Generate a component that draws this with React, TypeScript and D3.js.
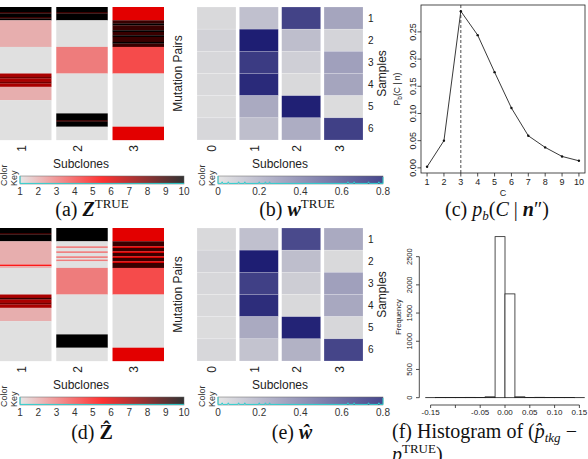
import React from "react";
import * as d3 from "d3";

// ---------- data ----------
const SUBCLONES_Z = ["1", "2", "3"];
const SUBCLONES_W = ["0", "1", "2", "3"];
const SAMPLES = ["1", "2", "3", "4", "5", "6"];

// Z matrices: run-length [value, number of mutation pairs], 80 pairs, top to bottom
const Z_TRUE_1 = [[10, 3], [9, 1], [10, 2], [9, 1], [10, 1], [2, 16], [1, 16], [7, 2], [8, 1], [7, 2], [8, 1], [7, 2], [2, 8], [1, 24]];
const Z_TRUE_2 = [[10, 3], [9, 1], [10, 4], [1, 16], [3, 16], [1, 24], [10, 4], [9, 1], [10, 3], [1, 8]];
const Z_TRUE_3 = [[6, 8], [9, 2], [10, 1], [9, 3], [10, 1], [9, 2], [10, 1], [9, 3], [10, 1], [9, 2], [4, 16], [1, 32], [6, 8]];

const Z_HAT_1 = [[10, 3], [9, 1], [10, 4], [2, 14], [5, 1], [2, 1], [1, 16], [7, 2], [9, 1], [7, 2], [8, 1], [7, 2], [2, 8], [1, 24]];
const Z_HAT_2 = [[10, 8], [1, 3], [3, 1], [1, 2], [3, 1], [1, 2], [3, 1], [1, 1], [3, 1], [1, 4], [3, 16], [1, 24], [10, 8], [1, 8]];
const Z_HAT_3 = [[6, 8], [9, 3], [6, 1], [9, 2], [6, 1], [9, 2], [6, 1], [9, 2], [6, 1], [9, 3], [4, 16], [1, 32], [6, 8]];

// w matrices: per subclone, samples 1..6
const W_TRUE_0 = [0.02, 0.05, 0.03, 0.02, 0.01, 0.03];
const W_TRUE_1 = [0.12, 0.78, 0.66, 0.73, 0.21, 0.13];
const W_TRUE_2 = [0.63, 0.13, 0.06, 0.02, 0.77, 0.2];
const W_TRUE_3 = [0.23, 0.04, 0.25, 0.23, 0.01, 0.64];

const W_HAT_0 = [0.02, 0.05, 0.03, 0.02, 0.01, 0.03];
const W_HAT_1 = [0.12, 0.78, 0.64, 0.72, 0.21, 0.11];
const W_HAT_2 = [0.6, 0.13, 0.07, 0.02, 0.76, 0.18];
const W_HAT_3 = [0.21, 0.02, 0.25, 0.22, 0.03, 0.62];

const Z_KEY_TICKS = [1, 2, 3, 4, 5, 6, 7, 8, 9, 10];
const W_KEY_TICKS = [0, 0.2, 0.4, 0.6, 0.8];
const W_KEY_LABELS = ["0", "0.2", "0.4", "0.6", "0.8"];
const W_DENSITY_BUMPS = [0.02, 0.05, 0.1, 0.13, 0.2, 0.23, 0.25, 0.63, 0.66, 0.73, 0.78];

// p_b(C | n)
const C_VALUES = [1, 2, 3, 4, 5, 6, 7, 8, 9, 10];
const PB_VALUES = [0.002, 0.05, 0.288, 0.244, 0.176, 0.11, 0.059, 0.0376, 0.021, 0.013];
const PB_Y_TICKS = [0, 0.05, 0.1, 0.15, 0.2, 0.25];
const C_SELECTED = 3;

// histogram
const HIST_BREAKS = [-0.16, -0.14, -0.12, -0.1, -0.08, -0.06, -0.04, -0.02, 0, 0.02, 0.04, 0.06, 0.08, 0.1, 0.12, 0.14, 0.16];
const HIST_COUNTS = [1, 2, 3, 4, 5, 3, 15, 2855, 1840, 15, 3, 6, 4, 3, 2, 1];
const HIST_X_TICKS = [-0.15, -0.1, -0.05, 0, 0.05, 0.1, 0.15];
const HIST_X_LABELS = ["-0.15", "", "-0.05", "0.00", "0.05", "0.10", "0.15"];
const HIST_Y_TICKS = [0, 500, 1000, 1500, 2000, 2500];

// ---------- styles ----------
const SANS = "'Liberation Sans', Arial, sans-serif";
const SERIF = "'Liberation Serif', 'Times New Roman', serif";

const zColor = d3.scaleLinear<string>().domain([1, 5.5, 10]).range(["#e0e0e0", "#ff0000", "#000000"]);
const wColor = d3.scaleLinear<string>().domain([0, 0.8]).range(["#dedede", "#191970"]).clamp(true);

function segments(runs: number[][]) {
  const out: { v: number; start: number; n: number }[] = [];
  let s = 0;
  runs.forEach(([v, n]) => {
    out.push({ v, start: s, n });
    s += n;
  });
  return out;
}

function ColorKeyTitle({ x, y }: { x: number; y: number }) {
  return (
    <g fontFamily={SANS} fontSize={9} fill="#333">
      <text transform={`translate(${x - 9.5},${y}) rotate(-90)`} textAnchor="start">Color</text>
      <text transform={`translate(${x},${y}) rotate(-90)`} textAnchor="start">Key</text>
    </g>
  );
}

function ZPanel({ cols, dy }: { cols: number[][][]; dy: number }) {
  const x = d3.scaleBand<string>().domain(SUBCLONES_Z).range([0, 164]).paddingInner(0.085);
  const nRows = d3.sum(cols[0], (r) => r[1]);
  const y = d3.scaleLinear().domain([0, nRows]).range([7 + dy, 140 + dy]);
  const kx = d3.scaleLinear().domain([1, 10]).range([20, 184]);
  const ky0 = 176 + dy;
  const ky1 = 184 + dy;
  return (
    <g>
      {cols.map((runs, ci) =>
        segments(runs).map((s, si) => (
          <rect
            key={`${ci}-${si}`}
            x={x(SUBCLONES_Z[ci])}
            y={y(s.start)}
            width={x.bandwidth()}
            height={y(s.start + s.n) - y(s.start) + 0.15}
            fill={zColor(s.v)}
          />
        ))
      )}
      {SUBCLONES_Z.map((c) => (
        <text
          key={c}
          transform={`translate(${(x(c) as number) + x.bandwidth() / 2 - 4},${145 + dy}) rotate(-90)`}
          textAnchor="end"
          dominantBaseline="central"
          fontFamily={SANS}
          fontSize={12}
          fill="#222"
        >
          {c}
        </text>
      ))}
      <text transform={`translate(182,${73.5 + dy}) rotate(-90)`} textAnchor="middle" fontFamily={SANS} fontSize={12} fill="#222">
        Mutation Pairs
      </text>
      <text x={81} y={168 + dy} textAnchor="middle" fontFamily={SANS} fontSize={12} fill="#222">
        Subclones
      </text>
      <rect x={kx(1)} y={ky0} width={kx(10) - kx(1)} height={ky1 - ky0} fill="url(#zkey)" fillOpacity={0.8} stroke="#666" strokeWidth={0.5} />
      <polyline points={`${kx(1)},${ky0} ${kx(1)},${ky1 - 0.6} ${kx(10)},${ky1 - 0.6}`} fill="none" stroke="#2fd0d0" strokeWidth={1} />
      {Z_KEY_TICKS.map((t) => (
        <text key={t} x={kx(t)} y={194.5 + dy} textAnchor="middle" fontFamily={SANS} fontSize={10} fill="#333">
          {t}
        </text>
      ))}
      <ColorKeyTitle x={16.5} y={186 + dy} />
    </g>
  );
}

function WPanel({ cols, dy }: { cols: number[][]; dy: number }) {
  const x = d3.scaleBand<string>().domain(SUBCLONES_W).range([197, 363]).paddingInner(0.08);
  const y = d3.scaleBand<string>().domain(SAMPLES).range([7 + dy, 140 + dy]);
  const kx = d3.scaleLinear().domain([0, 0.8]).range([218, 383]);
  const ky0 = 176 + dy;
  const ky1 = 184 + dy;
  const trace: string[] = [`${kx(0)},${ky0}`, `${kx(0)},${ky1 - 0.6}`];
  W_DENSITY_BUMPS.forEach((b) => {
    trace.push(`${kx(b) - 0.8},${ky1 - 0.6}`, `${kx(b)},${ky1 - 2.2}`, `${kx(b) + 0.8},${ky1 - 0.6}`);
  });
  trace.push(`${kx(0.8)},${ky1 - 0.6}`, `${kx(0.8)},${ky0 + 1}`);
  return (
    <g>
      {cols.map((vals, ci) =>
        vals.map((v, ri) => (
          <rect
            key={`${ci}-${ri}`}
            x={x(SUBCLONES_W[ci])}
            y={y(SAMPLES[ri])}
            width={x.bandwidth()}
            height={y.bandwidth()}
            fill={wColor(v)}
            stroke="#ffffff"
            strokeOpacity={0.35}
            strokeWidth={0.5}
          />
        ))
      )}
      {SAMPLES.map((s) => (
        <text
          key={s}
          x={368}
          y={(y(s) as number) + y.bandwidth() / 2}
          dominantBaseline="central"
          fontFamily={SANS}
          fontSize={10}
          fill="#222"
        >
          {s}
        </text>
      ))}
      {SUBCLONES_W.map((c) => (
        <text
          key={c}
          transform={`translate(${(x(c) as number) + x.bandwidth() / 2 - 4},${145 + dy}) rotate(-90)`}
          textAnchor="end"
          dominantBaseline="central"
          fontFamily={SANS}
          fontSize={12}
          fill="#222"
        >
          {c}
        </text>
      ))}
      <text transform={`translate(385.5,${73.5 + dy}) rotate(-90)`} textAnchor="middle" fontFamily={SANS} fontSize={12} fill="#222">
        Samples
      </text>
      <text x={280} y={168 + dy} textAnchor="middle" fontFamily={SANS} fontSize={12} fill="#222">
        Subclones
      </text>
      <rect x={kx(0)} y={ky0} width={kx(0.8) - kx(0)} height={ky1 - ky0} fill="url(#wkey)" fillOpacity={0.8} stroke="#666" strokeWidth={0.5} />
      <polyline points={trace.join(" ")} fill="none" stroke="#2fd0d0" strokeWidth={1} />
      {W_KEY_TICKS.map((t, i) => (
        <text key={t} x={kx(t)} y={194.5 + dy} textAnchor="middle" fontFamily={SANS} fontSize={10} fill="#333">
          {W_KEY_LABELS[i]}
        </text>
      ))}
      <ColorKeyTitle x={214.5} y={186 + dy} />
    </g>
  );
}

function PbPanel() {
  const lo = d3.min(PB_VALUES) as number;
  const hi = d3.max(PB_VALUES) as number;
  const ext = (hi - lo) * 0.04;
  const x = d3.scaleLinear().domain([1 - 0.36, 10 + 0.36]).range([421, 585]);
  const y = d3.scaleLinear().domain([lo - ext, hi + ext]).range([173, 5]);
  const line = d3
    .line<number>()
    .x((_, i) => x(C_VALUES[i]))
    .y((d) => y(d));
  return (
    <g fontFamily={SANS} fill="#222">
      <rect x={421} y={5} width={164} height={168} fill="none" stroke="#222" strokeWidth={0.8} />
      <line x1={x(C_SELECTED)} x2={x(C_SELECTED)} y1={5} y2={173} stroke="#222" strokeWidth={0.8} strokeDasharray="3,2" />
      <path d={line(PB_VALUES) as string} fill="none" stroke="#222" strokeWidth={0.9} />
      {PB_VALUES.map((v, i) => (
        <circle key={i} cx={x(C_VALUES[i])} cy={y(v)} r={1.2} fill="#111" />
      ))}
      {PB_Y_TICKS.map((t) => (
        <g key={t}>
          <line x1={421} x2={417.5} y1={y(t)} y2={y(t)} stroke="#222" strokeWidth={0.8} />
          <text transform={`translate(416,${y(t)}) rotate(-90)`} textAnchor="middle" fontSize={9}>
            {t.toFixed(2)}
          </text>
        </g>
      ))}
      {C_VALUES.map((c) => (
        <g key={c}>
          <line x1={x(c)} x2={x(c)} y1={173} y2={176.5} stroke="#222" strokeWidth={0.8} />
          <text x={x(c)} y={185} textAnchor="middle" fontSize={9}>
            {c}
          </text>
        </g>
      ))}
      <text x={503} y={195.5} textAnchor="middle" fontSize={9}>C</text>
      <text transform={`translate(400,89) rotate(-90)`} textAnchor="middle" fontSize={8.5}>
        P<tspan fontSize={6.5} dy={2}>b</tspan>
        <tspan dy={-2}>(C | n)</tspan>
      </text>
    </g>
  );
}

function HistPanel() {
  const x = d3.scaleLinear().domain([-0.1728, 0.1728]).range([419.3, 590.7]);
  const maxC = d3.max(HIST_COUNTS) as number;
  const y = d3.scaleLinear().domain([-maxC * 0.04, maxC * 1.04]).range([404.1, 230.2]);
  return (
    <g fontFamily={SANS} fill="#222">
      {HIST_COUNTS.map((c, i) => (
        <rect
          key={i}
          x={x(HIST_BREAKS[i])}
          y={y(c)}
          width={x(HIST_BREAKS[i + 1]) - x(HIST_BREAKS[i])}
          height={y(0) - y(c)}
          fill="#fff"
          stroke="#222"
          strokeWidth={0.8}
        />
      ))}
      <line x1={x(-0.15)} x2={x(0.15)} y1={405} y2={405} stroke="#222" strokeWidth={0.8} />
      {HIST_X_TICKS.map((t, i) => (
        <g key={t}>
          <line x1={x(t)} x2={x(t)} y1={405} y2={408} stroke="#222" strokeWidth={0.8} />
          <text x={x(t)} y={414.5} textAnchor="middle" fontSize={8}>
            {HIST_X_LABELS[i]}
          </text>
        </g>
      ))}
      <line x1={419.3} x2={419.3} y1={y(0)} y2={y(2500)} stroke="#222" strokeWidth={0.8} />
      {HIST_Y_TICKS.map((t) => (
        <g key={t}>
          <line x1={419.3} x2={416} y1={y(t)} y2={y(t)} stroke="#222" strokeWidth={0.8} />
          <text transform={`translate(412,${y(t)}) rotate(-90)`} textAnchor="middle" fontSize={7.5}>
            {t}
          </text>
        </g>
      ))}
      <text transform={`translate(401,317) rotate(-90)`} textAnchor="middle" fontSize={7.5}>
        Frequency
      </text>
    </g>
  );
}

function Captions() {
  const fs = 20;
  const small = 13;
  return (
    <g fontFamily={SERIF} fontSize={fs} fill="#111">
      <text x={92} y={216} textAnchor="middle">
        (a) <tspan fontWeight="bold" fontStyle="italic">Z</tspan>
        <tspan fontSize={small} dy={-8}>TRUE</tspan>
      </text>
      <text x={297} y={216} textAnchor="middle">
        (b) <tspan fontWeight="bold" fontStyle="italic">w</tspan>
        <tspan fontSize={small} dy={-8}>TRUE</tspan>
      </text>
      <text x={497} y={216} textAnchor="middle">
        (c) <tspan fontStyle="italic">p</tspan>
        <tspan fontStyle="italic" fontSize={small} dy={4}>b</tspan>
        <tspan dy={-4}>(</tspan>
        <tspan fontStyle="italic">C</tspan>
        <tspan> | </tspan>
        <tspan fontWeight="bold" fontStyle="italic">n</tspan>
        <tspan>″)</tspan>
      </text>
      <text x={92} y={439} textAnchor="middle">
        (d) <tspan fontWeight="bold">{"Z\u0302"}</tspan>
      </text>
      <text x={292} y={439} textAnchor="middle">
        (e) <tspan fontWeight="bold" fontStyle="italic">{"w\u0302"}</tspan>
      </text>
      <text x={392} y={438}>
        (f) Histogram of (<tspan fontStyle="italic">{"p\u0302"}</tspan>
        <tspan fontStyle="italic" fontSize={small} dy={4}>tkg</tspan>
        <tspan dy={-4}> −</tspan>
      </text>
      <text x={392} y={461}>
        <tspan fontStyle="italic">p</tspan>
        <tspan fontSize={small} dy={-8}>TRUE</tspan>
        <tspan dy={8}>)</tspan>
      </text>
    </g>
  );
}

export default function App() {
  return (
    <svg
      width={588}
      height={459}
      viewBox="0 0 588 459"
      style={{ position: "absolute", left: 0, top: 0, background: "#fff" }}
    >
      <defs>
        <linearGradient id="zkey" x1="0" x2="1" y1="0" y2="0">
          <stop offset="0" stopColor={zColor(1)} />
          <stop offset="0.5" stopColor={zColor(5.5)} />
          <stop offset="1" stopColor={zColor(10)} />
        </linearGradient>
        <linearGradient id="wkey" x1="0" x2="1" y1="0" y2="0">
          <stop offset="0" stopColor={wColor(0)} />
          <stop offset="1" stopColor={wColor(0.8)} />
        </linearGradient>
      </defs>
      <rect width={588} height={459} fill="#fff" />
      <ZPanel cols={[Z_TRUE_1, Z_TRUE_2, Z_TRUE_3]} dy={0} />
      <WPanel cols={[W_TRUE_0, W_TRUE_1, W_TRUE_2, W_TRUE_3]} dy={0} />
      <PbPanel />
      <ZPanel cols={[Z_HAT_1, Z_HAT_2, Z_HAT_3]} dy={221} />
      <WPanel cols={[W_HAT_0, W_HAT_1, W_HAT_2, W_HAT_3]} dy={221} />
      <HistPanel />
      <Captions />
    </svg>
  );
}
